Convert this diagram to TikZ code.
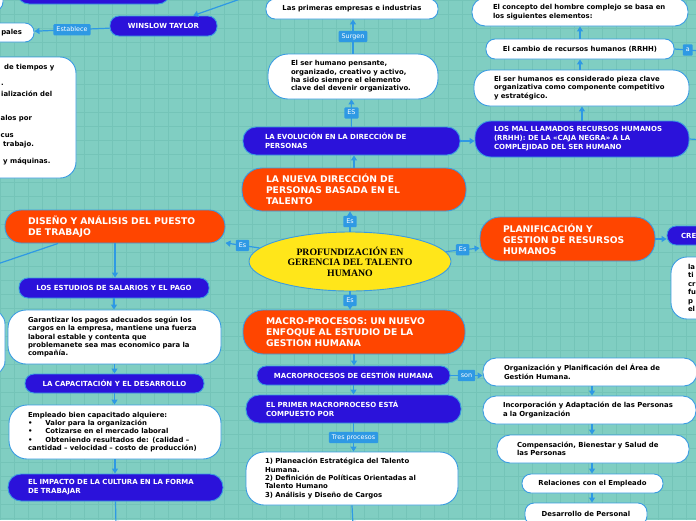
\documentclass[tikz,border=0pt]{standalone}
\usepackage{fontspec}
\setmainfont{DejaVu Sans}
\newfontfamily\rootfont{Liberation Serif}
\usetikzlibrary{shapes.geometric,arrows.meta,calc}
\definecolor{bgc}{RGB}{128,206,194}
\definecolor{gridc}{RGB}{116,196,184}
\definecolor{linec}{RGB}{46,153,228}
\definecolor{bordc}{RGB}{58,155,226}
\definecolor{bluec}{RGB}{43,18,218}
\definecolor{orangec}{RGB}{255,69,0}
\definecolor{yellowc}{RGB}{255,230,26}
\newcommand\fwhite{\fontsize{6.9}{8.4}\selectfont\bfseries}
\newcommand\fblue{\fontsize{7}{9}\selectfont\bfseries}
\newcommand\forange{\fontsize{9.2}{11}\selectfont\bfseries}
\newcommand\flab{\fontsize{6.4}{7}\selectfont}
\newcommand\froot{\rootfont\fontsize{9.8}{10.5}\selectfont\bfseries}
\tikzset{
  base/.style={draw=bordc, line width=0.9pt, inner ysep=0pt, rounded corners=9pt},
  wbox/.style={base, fill=white, text=black, font=\fwhite},
  bbox/.style={base, fill=bluec, text=white, font=\fblue},
  obox/.style={base, fill=orangec, text=white, font=\forange},
  boxw/.style n args={3}{minimum width=#1pt, text width=#2pt, inner xsep=#3pt, align=left},
  frag/.style={anchor=west, inner sep=0pt, font=\fwhite, text=black},
  conn/.style={draw=linec, line width=1.2pt, -{Triangle[length=5pt,width=6pt]}},
  lab/.style={fill=linec, text=white, font=\flab, inner xsep=3pt, inner ysep=2.5pt,
              text height=5pt, text depth=1.2pt, rounded corners=1pt}
}
\begin{document}
\begin{tikzpicture}[x=1pt,y=-1pt]
\useasboundingbox (0,0) rectangle (696,520);
\fill[bgc] (0,0) rectangle (696,520);
\foreach \g in {0,14,...,700} {\draw[gridc, line width=0.5pt] (\g,0) -- (\g,520);}
\foreach \g in {0,14,...,518} {\draw[gridc, line width=0.5pt] (0,\g) -- (696,\g);}

% ---- top left ----
\node[wbox, minimum width=43pt, minimum height=31pt] (tlw) at (-18.5,-4.5) {};
\node[bbox, minimum width=153pt, minimum height=30pt, rounded corners=12pt] (tlb) at (93.5,-11) {};
\node[bbox, minimum width=107pt, minimum height=20pt] (winslow) at (163.5,26) {WINSLOW TAYLOR};
\node[wbox, minimum width=64pt, minimum height=19pt, text width=40pt, inner xsep=12pt, align=right] (pales) at (2,32.5) {pales};
\node[wbox, minimum width=116pt, minimum height=121pt, rounded corners=16pt] (tinfo) at (18,117.5) {};
\node[frag] (f1) at (4,68) {de tiempos y};
\node[frag] (f2) at (1,85) {.};
\node[frag] (f3) at (1,93.5) {ialización del};
\node[frag] (f4) at (0.5,119) {alos por};
\node[frag] (f5) at (0.5,136) {cus};
\node[frag] (f6) at (3,144.5) {trabajo.};
\node[frag] (f7) at (3,161.5) {y máquinas.};

% ---- centre column ----
\node[ellipse, draw=bordc, line width=0.9pt, fill=yellowc, minimum width=202pt, minimum height=59pt,
      align=center, font=\froot, inner sep=0pt] (root) at (350,261.5)
      {PROFUNDIZACIÓN EN\\GERENCIA DEL TALENTO\\HUMANO};
\node[obox, boxw={224}{176}{24}, minimum height=43pt, rounded corners=20pt] (nueva) at (354,189.5)
      {LA NUEVA DIRECCIÓN DE\\PERSONAS BASADA EN EL\\TALENTO};
\node[bbox, boxw={217}{173}{22}, minimum height=28pt, rounded corners=13pt] (evol) at (351.5,141)
      {\mbox{LA EVOLUCIÓN EN LA DIRECCIÓN DE}\\PERSONAS};
\node[wbox, boxw={170}{124}{23}, minimum height=45pt, rounded corners=20pt] (serhum) at (353,76.5)
      {El ser humano pensante,\\organizado, creativo y activo,\\ha sido siempre el elemento\\\mbox{clave del devenir organizativo.}};
\node[wbox, minimum width=172pt, minimum height=20pt] (primeras) at (352,9) {Las primeras empresas e industrias};
\node[obox, boxw={222}{176}{23}, minimum height=44pt, rounded corners=20pt] (macro) at (354,332)
      {MACRO-PROCESOS: UN NUEVO\\ENFOQUE AL ESTUDIO DE LA\\GESTION HUMANA};
\node[bbox, minimum width=193pt, minimum height=19pt] (mgh) at (353.5,375.5) {MACROPROCESOS DE GESTIÓN HUMANA};
\node[bbox, boxw={215}{175}{20}, minimum height=28pt, rounded corners=13pt] (primer) at (353.5,409)
      {EL PRIMER MACROPROCESO ESTÁ\\COMPUESTO POR};
\node[wbox, boxw={212}{174}{19}, minimum height=53pt, rounded corners=18pt] (pasos) at (352,478.5)
      {1) Planeación Estratégica del Talento\\Humana.\\\mbox{2) Definición de Políticas Orientadas al}\\Talento Humano\\3) Análisis y Diseño de Cargos};

% ---- right column ----
\node[bbox, boxw={214}{176}{19}, minimum height=36pt, rounded corners=16pt] (losmal) at (582,139)
      {\mbox{LOS MAL LLAMADOS RECURSOS HUMANOS}\\\mbox{(RRHH): DE LA «CAJA NEGRA» A LA}\\COMPLEJIDAD DEL SER HUMANO};
\node[wbox, boxw={215}{175}{20}, minimum height=36pt, rounded corners=16pt] (pieza) at (581.5,88)
      {\mbox{El ser humanos es considerado pieza clave}\\\mbox{organizativa como componente competitivo}\\y estratégico.};
\node[wbox, minimum width=188pt, minimum height=20pt] (cambio) at (580,49) {El cambio de recursos humanos (RRHH)};
\node[wbox, boxw={216}{174}{21}, minimum height=28pt, rounded corners=13pt] (concepto) at (580,12)
      {\mbox{El concepto del hombre complejo se basa en}\\los siguientes elementos:};
\node[obox, boxw={175}{129}{23}, minimum height=44pt, rounded corners=20pt] (planif) at (567.5,239)
      {PLANIFICACIÓN Y\\GESTION DE RESURSOS\\HUMANOS};
\node[bbox, boxw={63}{35}{14}, minimum height=19pt] (cre) at (698.5,235.5) {CRE};
\node[wbox, boxw={69}{35}{17}, minimum height=62pt, rounded corners=16pt] (rw) at (705.5,288)
      {la\\ti\\cr\\fu\\p\\el};
\node[wbox, boxw={214}{172}{21}, minimum height=28pt, rounded corners=13pt] (org) at (590,372)
      {Organización y Planificación del Área de\\Gestión Humana.};
\node[wbox, boxw={213}{173}{20}, minimum height=28pt, rounded corners=13pt] (incorp) at (589.5,410)
      {\mbox{Incorporación y Adaptación de las Personas}\\a la Organización};
\node[wbox, boxw={192}{152}{20}, minimum height=28pt, rounded corners=13pt] (comp) at (593,449)
      {Compensación, Bienestar y Salud de\\las Personas};
\node[wbox, minimum width=141pt, minimum height=19pt] (rel) at (592.5,483.5) {Relaciones con el Empleado};
\node[wbox, minimum width=122pt, minimum height=22pt] (des) at (586,514) {Desarrollo de Personal};

% ---- left column ----
\node[obox, boxw={220}{174}{23}, minimum height=33pt, rounded corners=16pt] (diseno) at (115,226.5)
      {\mbox{DISEÑO Y ANÁLISIS DEL PUESTO}\\DE TRABAJO};
\node[bbox, minimum width=190pt, minimum height=20pt] (estudios) at (114,288) {LOS ESTUDIOS DE SALARIOS Y EL PAGO};
\node[wbox, minimum width=45pt, minimum height=65pt, rounded corners=14pt] (lcut) at (-17.5,342.5) {};
\node[wbox, boxw={213}{173}{20}, minimum height=54pt, rounded corners=18pt] (garant) at (114.5,337)
      {\mbox{Garantizar los pagos adecuados según los}\\\mbox{cargos en la empresa, mantiene una fuerza}\\laboral estable y contenta que\\\mbox{problemanete sea mas economico para la}\\compañía.};
\node[bbox, minimum width=179pt, minimum height=19pt] (capac) at (114.5,383.5) {LA CAPACITACIÓN Y EL DESARROLLO};
\node[wbox, boxw={212}{174}{19}, minimum height=54pt, rounded corners=18pt] (empleado) at (115,432)
      {Empleado bien capacitado alquiere:\\•\hspace{13pt}Valor para la organización\\•\hspace{13pt}Cotizarse en el mercado laboral\\\mbox{•\hspace{13pt}Obteniendo resultados de: (calidad –}\\\mbox{cantidad – velocidad – costo de producción)}};
\node[bbox, boxw={215}{175}{20}, minimum height=27pt, rounded corners=13pt] (impacto) at (115.5,487.5)
      {\mbox{EL IMPACTO DE LA CULTURA EN LA FORMA}\\DE TRABAJAR};

% ---- free ends ----
\coordinate (offT) at (246,-3);
\coordinate (offL) at (-10,266.5);
\coordinate (offR1) at (705,140);
\coordinate (offR2) at (701,51);
\coordinate (offB1) at (353,526);
\coordinate (offB2) at (116,526);
\coordinate (colx) at (592,0);

% ---- connectors ----
\draw[conn] (offT) -- (winslow);
\draw[conn] (winslow) -- node[lab]{Establece} (pales);
\draw[conn] ($(diseno.south)+(-57,0)$) -- (offL);
\draw[conn] (root) -- node[lab]{Es} (diseno);
\draw[conn] (root.north) -- node[lab]{Es} (root.north |- nueva.south);
\draw[conn] (nueva.north) -- (nueva.north |- evol.south);
\draw[conn] (evol.north) -- node[lab]{ES} (evol.north |- serhum.south);
\draw[conn] (serhum.north) -- node[lab]{Surgen} (serhum.north |- primeras.south);
\draw[conn] (evol.east) -- (evol.east -| losmal.west);
\draw[conn] (losmal.east) -- (offR1);
\draw[conn] (losmal.north) -- (losmal.north |- pieza.south);
\draw[conn] (cambio.south |- pieza.north) -- (cambio.south);
\draw[conn] (cambio.north) -- (cambio.north |- concepto.south);
\draw[conn] (cambio.east) -- node[lab]{a} (offR2);
\draw[conn] (root) -- node[lab]{Es} (planif);
\draw[conn] (planif.east) -- (planif.east -| cre.west);
\draw[conn] (root.south) -- node[lab]{Es} (root.south |- macro.north);
\draw[conn] (macro.south) -- (macro.south |- mgh.north);
\draw[conn] (mgh.east) -- node[lab]{son} (mgh.east -| org.west);
\draw[conn] (mgh.south) -- (mgh.south |- primer.north);
\draw[conn] (primer.south) -- node[lab]{Tres procesos} (primer.south |- pasos.north);
\draw[conn] (pasos.south) -- (offB1);
\draw[conn] (org.south -| colx) -- (incorp.north -| colx);
\draw[conn] (incorp.south -| colx) -- (comp.north -| colx);
\draw[conn] (comp.south -| colx) -- (rel.north -| colx);
\draw[conn] (rel.south -| colx) -- (des.north -| colx);
\draw[conn] (diseno.south) -- (diseno.south |- estudios.north);
\draw[conn] (estudios.south) -- (estudios.south |- garant.north);
\draw[conn] (garant.south) -- (garant.south |- capac.north);
\draw[conn] (capac.south) -- (capac.south |- empleado.north);
\draw[conn] (empleado.south) -- (empleado.south |- impacto.north);
\draw[conn] (impacto.south) -- (offB2);
\end{tikzpicture}
\end{document}
